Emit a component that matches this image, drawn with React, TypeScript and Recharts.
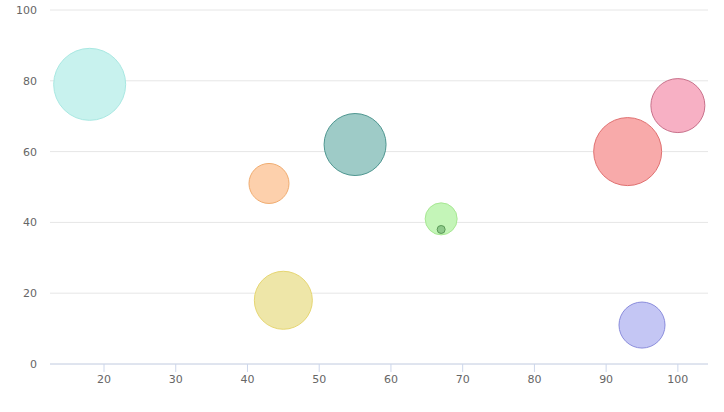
import React from 'react';
import { ScatterChart, Scatter, XAxis, YAxis, ZAxis, CartesianGrid, Cell } from 'recharts';

const xValues = [18, 43, 45, 55, 67, 67, 93, 100, 95];
const yValues = [79, 51, 18, 62, 41, 38, 60, 73, 11];
const sizes = [1296, 400, 841, 961, 256, 16, 1156, 729, 529];
const fills = ['#c8f2ee', '#fdd0ac', '#eee6a8', '#9ecbc7', '#c4f5b8', '#8ec98a', '#f8aaaa', '#f7b0c4', '#c4c6f4'];
const strokes = ['#a8e8e2', '#f0ac70', '#e6d672', '#4e9690', '#a8e894', '#5a9a56', '#e07070', '#c8708a', '#8a8cdc'];
const xTicks = [20, 30, 40, 50, 60, 70, 80, 90, 100];
const yTicks = [0, 20, 40, 60, 80, 100];

const data = xValues.map((x, i) => ({ x, y: yValues[i], z: sizes[i] }));

export default function App() {
  return (
    <div style={{ position: 'absolute', left: 0, top: 0, width: 724, height: 412, background: '#fff' }}>
      <ScatterChart width={724} height={412} margin={{ top: 10, right: 16, bottom: 18, left: 0 }}>
        <CartesianGrid horizontal vertical={false} stroke="#e6e6e6" />
        <XAxis
          type="number"
          dataKey="x"
          domain={[12.47, 104.2]}
          ticks={xTicks}
          allowDataOverflow
          height={30}
          stroke="#ccd6eb"
          tickSize={8}
          tickMargin={3}
          tick={{ fill: '#666', fontSize: 11, fontFamily: 'DejaVu Sans' }}
        />
        <YAxis
          type="number"
          dataKey="y"
          domain={[0, 100]}
          ticks={yTicks}
          width={50}
          axisLine={false}
          tickLine={false}
          tickMargin={7}
          tick={{ fill: '#666', fontSize: 11, fontFamily: 'DejaVu Sans' }}
        />
        <ZAxis type="number" dataKey="z" domain={[0, 1296]} range={[0, 1296 * Math.PI]} />
        <Scatter data={data} isAnimationActive={false}>
          {data.map((d, i) => (
            <Cell key={i} fill={fills[i]} stroke={strokes[i]} strokeWidth={1} />
          ))}
        </Scatter>
      </ScatterChart>
    </div>
  );
}
